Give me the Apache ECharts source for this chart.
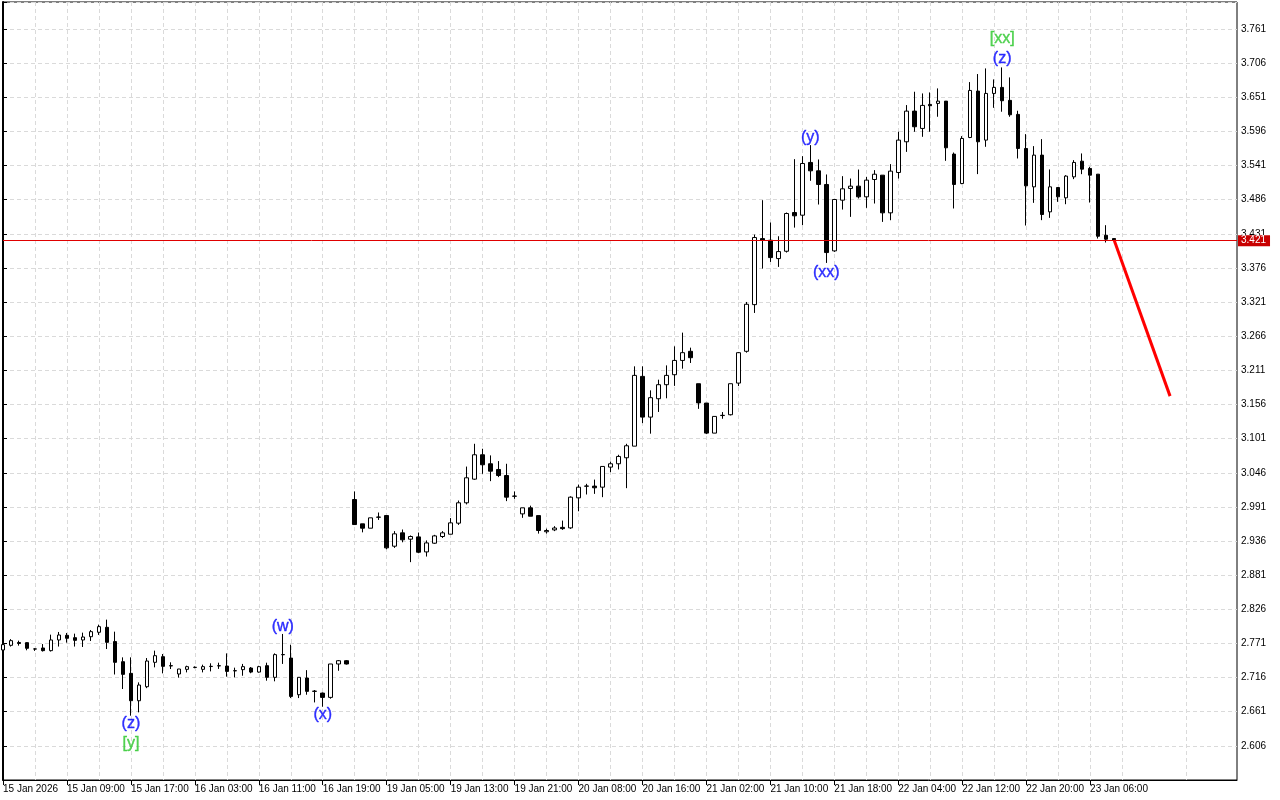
<!DOCTYPE html>
<html><head><meta charset="utf-8">
<script src="https://cdn.jsdelivr.net/npm/echarts@6/dist/echarts.min.js"></script>
<style>html,body{margin:0;padding:0;background:#fff}#c{width:1280px;height:800px}</style>
</head><body><div id="c"></div>
<script>
// x-axis tick labels (one every 8 hourly bars)
const tickLabels = ["15 Jan 2026","15 Jan 09:00","15 Jan 17:00","16 Jan 03:00","16 Jan 11:00","16 Jan 19:00","19 Jan 05:00","19 Jan 13:00","19 Jan 21:00","20 Jan 08:00","20 Jan 16:00","21 Jan 02:00","21 Jan 10:00","21 Jan 18:00","22 Jan 04:00","22 Jan 12:00","22 Jan 20:00","23 Jan 06:00"];
// OHLC per hourly bar
const opens = [2.7605,2.768,2.7725,2.7723,2.7622,2.7637,2.7594,2.7766,2.7841,2.7803,2.7766,2.7819,2.789,2.797,2.774,2.7416,2.7228,2.6787,2.7013,2.7406,2.7497,2.7352,2.7218,2.7293,2.7323,2.7293,2.7338,2.7348,2.7346,2.7268,2.7288,2.7314,2.7249,2.7352,2.7164,2.7528,2.7475,2.6884,2.7153,2.6938,2.691,2.6841,2.7379,2.7432,3.0029,2.9637,2.9567,2.9743,2.9771,2.9277,2.9492,2.939,2.9427,2.9185,2.9325,2.9433,2.947,2.9648,2.9976,3.0357,3.075,3.0605,3.0513,3.0416,3.0081,2.9798,2.9895,2.977,2.951,2.954,2.958,2.9572,3.0056,3.0243,3.0245,3.0228,3.0551,3.0605,3.0702,3.0889,3.2013,3.1357,3.1653,3.1879,3.204,3.227,3.2417,3.1895,3.1583,3.1099,3.1382,3.1395,3.1905,3.2417,3.3169,3.4233,3.4207,3.3911,3.4029,3.4653,3.461,3.546,3.5325,3.5105,3.4035,3.4852,3.5041,3.5078,3.4906,3.5185,3.5255,3.4648,3.5298,3.5793,3.6287,3.6008,3.6395,3.6411,3.6448,3.5594,3.512,3.5862,3.661,3.582,3.6572,3.6669,3.646,3.6234,3.5685,3.5067,3.5578,3.4664,3.5056,3.489,3.5228,3.548,3.5363,3.5271,3.4287,3.4234];
const closes = [2.7691,2.7755,2.771,2.7632,2.762,2.7594,2.7766,2.7846,2.7793,2.776,2.7814,2.790,2.7981,2.7728,2.7406,2.7212,2.6787,2.704,2.7427,2.7513,2.7341,2.7348,2.7298,2.7336,2.7327,2.7336,2.7342,2.7352,2.726,2.7272,2.7336,2.7249,2.7336,2.7164,2.753,2.7532,2.6857,2.7164,2.6938,2.6942,2.6841,2.7379,2.7432,2.7379,2.9626,2.9567,2.9734,2.9747,2.925,2.9476,2.938,2.9433,2.918,2.933,2.9443,2.9492,2.9653,2.9976,3.0379,3.075,3.0589,3.0486,3.0416,3.0067,3.0085,2.9895,2.976,2.953,2.953,2.957,2.956,3.0067,3.0228,3.0247,3.0218,3.0562,3.0605,3.0723,3.0895,3.2029,3.1357,3.167,3.1879,3.2029,3.227,3.2395,3.2314,3.1586,3.1099,3.1368,3.1386,3.1895,3.2395,3.3175,3.425,3.4207,3.3927,3.4024,3.4637,3.460,3.5443,3.5325,3.5105,3.4008,3.4863,3.5035,3.5078,3.4906,3.5175,3.527,3.4648,3.532,3.582,3.6287,3.6035,3.6379,3.6373,3.6448,3.5696,3.5105,3.5846,3.662,3.5793,3.6572,3.6669,3.6454,3.6228,3.5685,3.5083,3.5578,3.4621,3.5067,3.4906,3.524,3.546,3.5352,3.5255,3.4271,3.4223,3.421];
const lows = [2.759,2.766,2.7675,2.760,2.759,2.758,2.758,2.766,2.7723,2.766,2.7653,2.775,2.7847,2.762,2.721,2.6976,2.6546,2.660,2.699,2.7325,2.7228,2.7298,2.716,2.7244,2.731,2.7244,2.726,2.730,2.7175,2.7164,2.719,2.723,2.724,2.711,2.710,2.738,2.683,2.683,2.6884,2.676,2.669,2.682,2.727,2.737,2.9626,2.950,2.9567,2.970,2.9228,2.925,2.934,2.902,2.9164,2.911,2.9315,2.941,2.947,2.962,2.995,3.0346,3.0443,3.0325,3.039,3.0003,3.004,2.9734,2.976,2.948,2.948,2.952,2.954,2.9556,2.984,3.011,3.012,3.0067,3.047,3.0513,3.0212,3.0889,3.126,3.109,3.144,3.166,3.186,3.2137,3.2229,3.149,3.1083,3.1099,3.133,3.1384,3.1857,3.2395,3.3035,3.375,3.3857,3.3777,3.4008,3.441,3.4449,3.5164,3.4782,3.3841,3.4019,3.4701,3.4583,3.488,3.4728,3.4798,3.4502,3.4529,3.5201,3.563,3.5954,3.5873,3.5954,3.6196,3.5486,3.4718,3.511,3.5852,3.5272,3.5712,3.634,3.6277,3.6196,3.5524,3.4444,3.4809,3.453,3.4567,3.4825,3.4787,3.5191,3.5271,3.4814,3.4234,3.417,3.4196];
const highs = [2.770,2.778,2.7755,2.7728,2.7632,2.770,2.7852,2.7895,2.7879,2.7868,2.7884,2.7927,2.8013,2.8094,2.790,2.7486,2.7486,2.7083,2.7475,2.7594,2.754,2.7406,2.730,2.7352,2.734,2.7368,2.739,2.740,2.755,2.732,2.738,2.733,2.735,2.740,2.755,2.7863,2.769,2.7164,2.728,2.696,2.692,2.7379,2.7443,2.7443,3.016,2.9637,2.9734,2.982,2.9771,2.952,2.9546,2.945,2.9497,2.937,2.946,2.952,2.973,3.0013,3.056,3.0927,3.0847,3.074,3.0648,3.0605,3.016,2.9895,2.993,2.977,2.956,2.960,2.969,3.008,3.027,3.0282,3.035,3.0562,3.064,3.075,3.0927,3.2175,3.2175,3.1788,3.196,3.219,3.2497,3.2718,3.2476,3.1895,3.1583,3.1368,3.1438,3.1895,3.2406,3.3212,3.4298,3.4852,3.4492,3.4271,3.4653,3.5513,3.5561,3.5739,3.5508,3.5266,3.4863,3.5239,3.5201,3.5346,3.5228,3.5336,3.5255,3.5433,3.5954,3.6384,3.6599,3.6572,3.6588,3.6653,3.6448,3.562,3.5884,3.6755,3.6884,3.6975,3.6798,3.6991,3.683,3.6293,3.5916,3.5723,3.5836,3.5347,3.5056,3.5255,3.5497,3.5605,3.539,3.5271,3.4449,3.4234];
// current price line
const currentPrice = 3.421;
// forecast arrow (bar index, price)
const forecastBars = [139, 146];
const forecastPrices = [3.421, 3.1695];
// wave labels
const waveTexts  = ["(z)","[y]","(w)","(x)","(y)","(xx)","[xx]","(z)"];
const waveBars   = [16, 16, 35, 40, 101, 103, 125, 125];
const wavePrices = [2.6417, 2.6094, 2.7981, 2.6562, 3.5868, 3.369, 3.7449, 3.7126];
const waveKinds  = ["b","g","b","b","b","b","g","b"];

const BLUE = '#0000ff', GREEN = '#2ec82e';
const candles = opens.map((o, i) => [i, o, closes[i], lows[i], highs[i]]);
const waves = waveTexts.map((t, i) => {
  const c = waveKinds[i] === 'g' ? GREEN : BLUE;
  return { value: [waveBars[i], wavePrices[i]], name: t,
    label: { color: c, textBorderColor: c, textBorderWidth: 0.4 } };
});
const tickValues = tickLabels.map((_, k) => k * 8);

const chart = echarts.init(document.getElementById('c'), null, {renderer: 'canvas'});
const FONT = 'Liberation Sans, Arial, sans-serif';
chart.setOption({
  animation: false,
  backgroundColor: '#ffffff',
  grid: { left: 2, right: 43, top: 2, bottom: 20, show: true, borderColor: '#000', borderWidth: 1, backgroundColor: '#fff' },
  xAxis: {
    type: 'value', min: 0, max: 154.375, interval: 8,
    axisLine: { show: true, onZero: false, lineStyle: { color: '#000', width: 1 } },
    axisTick: { show: true, length: 5, customValues: tickValues, lineStyle: { color: '#000' } },
    axisLabel: {
      show: true, align: 'left', margin: 4, color: '#000', fontSize: 10, fontFamily: FONT,
      customValues: tickValues,
      formatter: v => { const k = Math.round(v / 8); return (k >= 0 && k < tickLabels.length) ? tickLabels[k] : ''; }
    },
    splitLine: { show: true, lineStyle: { color: '#dadada', type: [4, 3], width: 1 } },
    minorTick: { show: false, splitNumber: 2 },
    minorSplitLine: { show: true, lineStyle: { color: '#dadada', type: [4, 3], width: 1 } }
  },
  yAxis: {
    type: 'value', position: 'right', min: 2.551, max: 3.8045, interval: 0.055, scale: true,
    axisLine: { show: true, lineStyle: { color: '#000', width: 2 } },
    axisTick: { show: true, length: 4, lineStyle: { color: '#000' } },
    axisLabel: {
      show: true, margin: 4, color: '#000', fontSize: 10, fontFamily: FONT,
      formatter: v => { const k = (v - 2.606) / 0.055; return (Math.abs(k - Math.round(k)) < 0.02 && v > 2.6 && v < 3.79) ? v.toFixed(3) : ''; }
    },
    splitLine: { show: true, lineStyle: { color: '#dadada', type: [4, 3], width: 1 } }
  },
  series: [
    {
      type: 'candlestick', data: candles, barWidth: 4,
      itemStyle: { color: '#ffffff', color0: '#000000', borderColor: '#000000', borderColor0: '#000000', borderWidth: 1 },
      markLine: {
        silent: true, symbol: 'none', animation: false,
        data: [{ yAxis: currentPrice }],
        lineStyle: { color: '#e00000', width: 1, type: 'solid' },
        label: { show: true, position: 'end', distance: 1, formatter: currentPrice.toFixed(3), color: '#fff', backgroundColor: '#c80000', padding: [1, 4, 0, 3], fontSize: 10, fontFamily: FONT }
      },
      z: 3
    },
    {
      type: 'line', data: forecastBars.map((b, i) => [b, forecastPrices[i]]),
      symbol: 'none', lineStyle: { color: '#ff0000', width: 3 }, z: 5, silent: true
    },
    {
      type: 'scatter', data: waves, symbolSize: 1, itemStyle: { color: 'rgba(0,0,0,0)' },
      label: { show: true, position: 'inside', formatter: '{b}', fontSize: 16, fontFamily: FONT },
      z: 6, silent: true
    }
  ]
});
</script></body></html>
